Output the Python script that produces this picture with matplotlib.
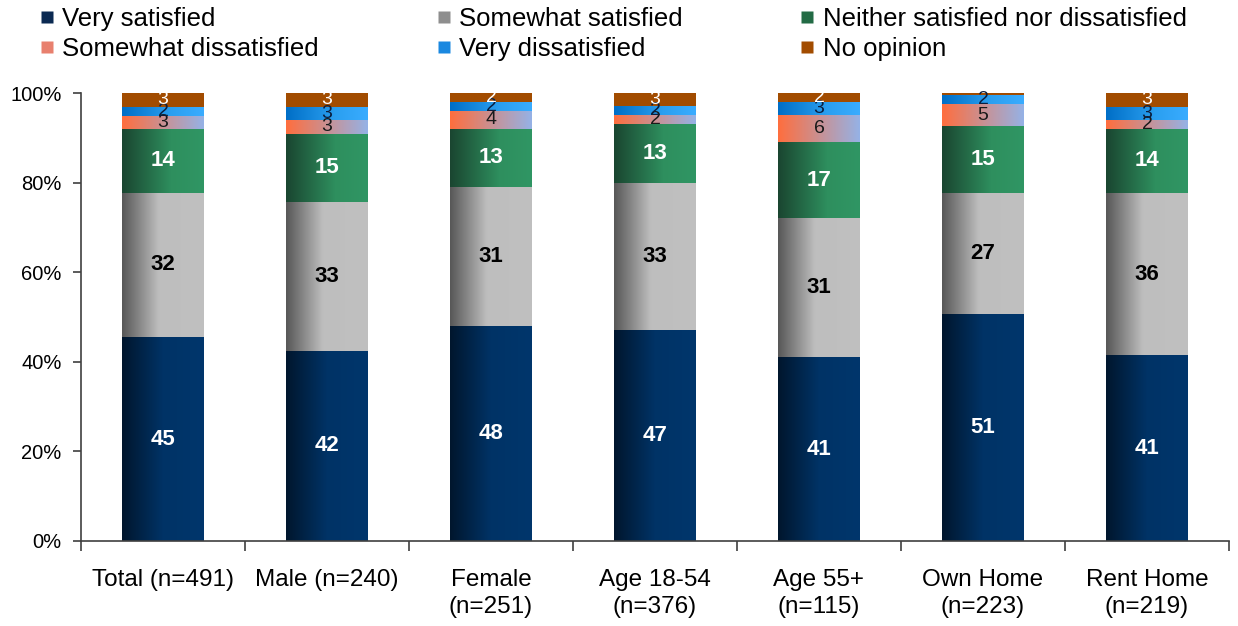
import matplotlib
matplotlib.use("Agg")
import matplotlib.pyplot as plt
import numpy as np
from matplotlib.colors import LinearSegmentedColormap
from matplotlib.lines import Line2D

plt.rcParams['font.family'] = ['Liberation Sans', 'DejaVu Sans']

groups = ["Total (n=491)", "Male (n=240)", "Female\n(n=251)", "Age 18-54\n(n=376)",
          "Age 55+\n(n=115)", "Own Home\n(n=223)", "Rent Home\n(n=219)"]
series = ["Very satisfied", "Somewhat satisfied", "Neither satisfied nor dissatisfied",
          "Somewhat dissatisfied", "Very dissatisfied", "No opinion"]

very_sat = [45, 42, 48, 47, 41, 51, 41]
somewhat_sat = [32, 33, 31, 33, 31, 27, 36]
neither = [14, 15, 13, 13, 17, 15, 14]
somewhat_dis = [3, 3, 4, 2, 6, 5, 2]
very_dis = [2, 3, 2, 2, 3, 2, 3]
no_opinion = [3, 3, 2, 3, 2, 0.5, 3]

# left-to-right shading of each segment
gradients = [
    [(0, '#00162d'), (0.5, '#003366'), (1, '#00366c')],
    [(0, '#575757'), (0.45, '#bebebe'), (1, '#c0c0c0')],
    [(0, '#1a4530'), (0.6, '#2e8f5e'), (1, '#309664')],
    [(0, '#ff6e3e'), (1, '#95b2e6')],
    [(0, '#006ec6'), (0.6, '#2a9ff0'), (1, '#3aacff')],
    [(0, '#a24c00'), (1, '#a24c00')],
]
legend_colors = ['#0b2a52', '#8e8e8e', '#236b45', '#e8806e', '#1a88e0', '#a24c00']
label_styles = [('white', 'bold', 16), ('black', 'bold', 16), ('white', 'bold', 16),
                ('#1a1a1a', 'normal', 14), ('#0a1f3f', 'normal', 14), ('white', 'normal', 14)]

data = np.array([very_sat, somewhat_sat, neither, somewhat_dis, very_dis, no_opinion], dtype=float)
pct = data / data.sum(axis=0) * 100

fig = plt.figure(figsize=(12.38, 6.26), dpi=100)
ax = fig.add_axes([0.0654, 0.1358, 0.9273, 0.7156])

x = np.arange(len(groups))
width = 0.5
bottom = np.zeros(len(groups))
ramp = np.linspace(0, 1, 256).reshape(1, -1)

for i in range(len(series)):
    cmap = LinearSegmentedColormap.from_list("g%d" % i, gradients[i])
    bars = ax.bar(x, pct[i], width, bottom=bottom, color='none', edgecolor='none', zorder=2)
    for j, rect in enumerate(bars):
        x0, y0 = rect.get_x(), rect.get_y()
        w, h = rect.get_width(), rect.get_height()
        im = ax.imshow(ramp, cmap=cmap, extent=[x0, x0 + w, y0, y0 + h],
                       aspect='auto', zorder=1, interpolation='bilinear')
        im.set_clip_path(rect)
        if data[i, j] >= 1:
            col, wt, fs = label_styles[i]
            ax.text(x[j], y0 + h / 2, "%d" % data[i, j], ha='center', va='center',
                    color=col, fontweight=wt, fontsize=fs, zorder=3)
    bottom += pct[i]

ax.set_xlim(-0.5, len(groups) - 0.5)
ax.set_ylim(0, 100)
ax.set_yticks([0, 20, 40, 60, 80, 100])
ax.set_yticklabels(["%d%%" % v for v in [0, 20, 40, 60, 80, 100]], fontsize=14.5)
ax.set_xticks(x)
ax.set_xticklabels(groups, fontsize=17.5, linespacing=1.3)
ax.set_xticks(np.arange(-0.5, len(groups)), minor=True)
ax.tick_params(axis='x', which='major', length=0, pad=20)
ax.tick_params(axis='x', which='minor', length=7, width=1.2, color='#404040')
ax.tick_params(axis='y', length=6, width=1.2, color='#404040', pad=8)
for s in ['top', 'right']:
    ax.spines[s].set_visible(False)
for s in ['left', 'bottom']:
    ax.spines[s].set_color('#404040')
    ax.spines[s].set_linewidth(1.2)

# legend entries fill column-wise, so reorder to read across rows
order = [0, 3, 1, 4, 2, 5]
handles = [Line2D([], [], marker='s', linestyle='none', markersize=9,
                  markerfacecolor=legend_colors[k], markeredgecolor='none') for k in order]
fig.legend(handles, [series[k] for k in order], ncol=3, loc='upper left',
           bbox_to_anchor=(0.014, 1.025), frameon=False, fontsize=18.5,
           handlelength=0.5, handletextpad=0.35, columnspacing=4.6, labelspacing=0.2)

fig.savefig("out.png", dpi=100)
